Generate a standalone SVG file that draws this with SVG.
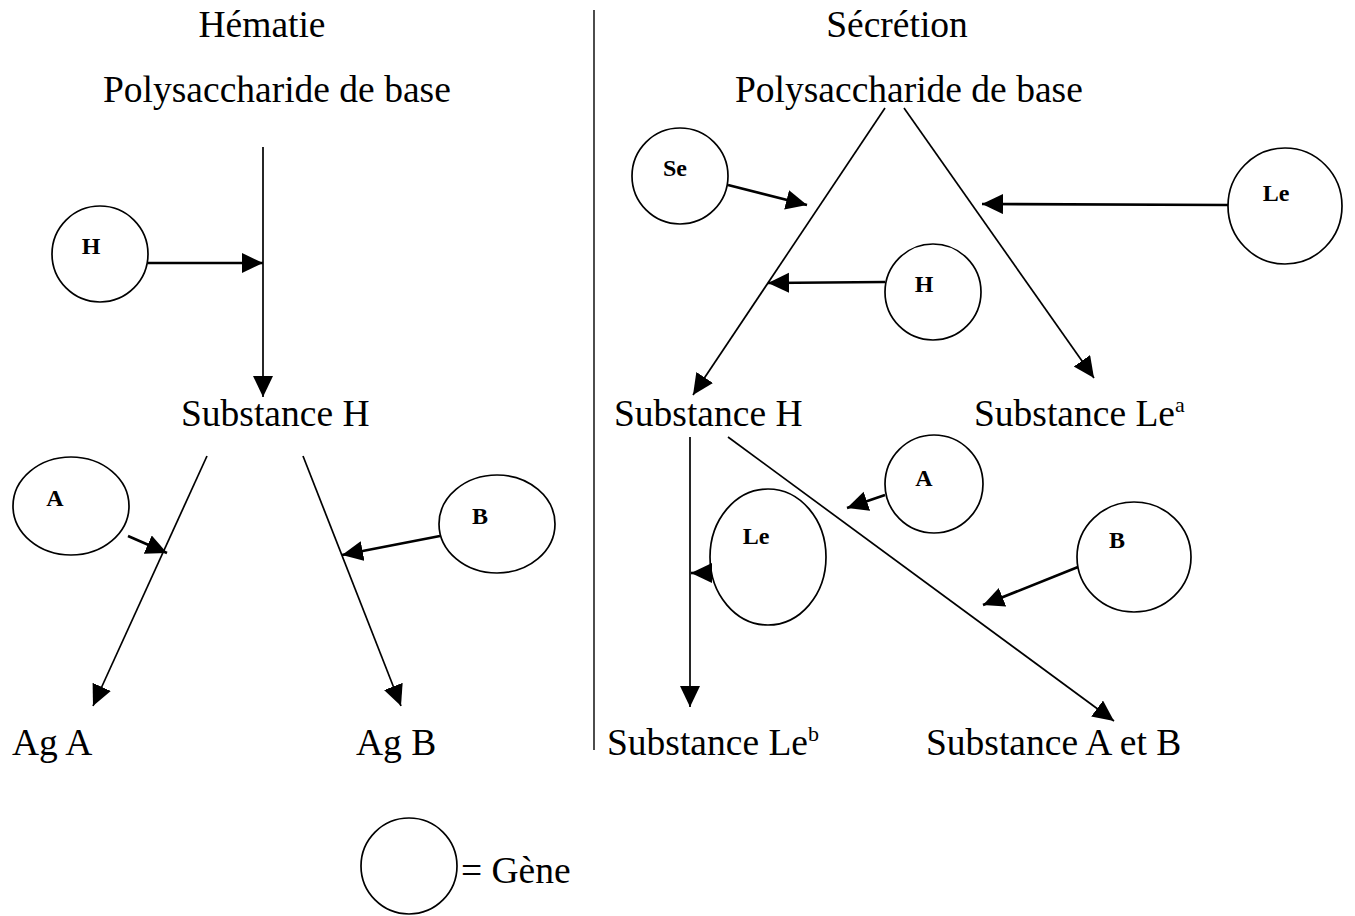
<svg xmlns="http://www.w3.org/2000/svg" width="1355" height="916" viewBox="0 0 1355 916">
<style>
.t{font-family:"Liberation Serif","Times New Roman",serif;font-size:37.5px;fill:#000}
.sup{font-size:22px}
.g{font-family:"Liberation Serif","Times New Roman",serif;font-size:24px;font-weight:bold;fill:#000;text-anchor:middle}
.c{fill:#fff;stroke:#000;stroke-width:1.7}
.m{stroke:#000;stroke-width:1.7;fill:none;marker-end:url(#ah)}
.a{stroke:#000;stroke-width:2.6;fill:none;marker-end:url(#ah)}
</style>
<defs>
<marker id="ah" markerUnits="userSpaceOnUse" markerWidth="24" markerHeight="22" refX="21" refY="10" orient="auto" viewBox="0 0 24 22">
<path d="M0,0 L21,10 L0,20 z" fill="#000"/>
</marker>
</defs>
<rect width="1355" height="916" fill="#fff"/>
<line x1="594" y1="10" x2="594" y2="750" stroke="#000" stroke-width="1.4"/>

<g id="titles">
<text class="t" x="262" y="37" text-anchor="middle">Hématie</text>
<text class="t" x="897" y="37" text-anchor="middle">Sécrétion</text>
</g>
<g id="poly-left"><text class="t" x="103" y="102">Polysaccharide de base</text></g>
<g id="poly-right"><text class="t" x="735" y="102">Polysaccharide de base</text></g>
<g id="subH-left"><text class="t" x="181" y="426">Substance H</text></g>
<g id="agA"><text class="t" x="12" y="755">Ag A</text></g>
<g id="agB"><text class="t" x="356" y="755">Ag B</text></g>
<g id="subH-right"><text class="t" x="614" y="426">Substance H</text></g>
<g id="subLea"><text class="t" x="974" y="426">Substance Le<tspan class="sup" dy="-14">a</tspan></text></g>
<g id="subLeb"><text class="t" x="607" y="755">Substance Le<tspan class="sup" dy="-14">b</tspan></text></g>
<g id="subAB"><text class="t" x="926" y="755">Substance A et B</text></g>

<g id="gene-H-left"><circle class="c" cx="100" cy="254" r="48"/><text class="g" x="91" y="254">H</text></g>
<g id="gene-A-left"><ellipse class="c" cx="71" cy="506" rx="58" ry="49"/><text class="g" x="55" y="506">A</text></g>
<g id="gene-B-left"><ellipse class="c" cx="497" cy="524" rx="58" ry="49"/><text class="g" x="480" y="524">B</text></g>
<g id="gene-Se"><circle class="c" cx="680" cy="176" r="48"/><text class="g" x="675" y="176">Se</text></g>
<g id="gene-H-right"><circle class="c" cx="933" cy="292" r="48"/><text class="g" x="924" y="292">H</text></g>
<g id="gene-Le-top"><ellipse class="c" cx="1285" cy="206" rx="57" ry="58"/><text class="g" x="1276" y="201">Le</text></g>
<g id="gene-A-right"><circle class="c" cx="934" cy="484" r="49"/><text class="g" x="924" y="486">A</text></g>
<g id="gene-Le-low"><ellipse class="c" cx="768" cy="557" rx="58" ry="68"/><text class="g" x="756" y="544">Le</text></g>
<g id="gene-B-right"><ellipse class="c" cx="1134" cy="557" rx="57" ry="55"/><text class="g" x="1117" y="548">B</text></g>
<g id="legend"><circle class="c" cx="409" cy="866" r="48"/><text class="t" x="461" y="883">= Gène</text></g>

<g id="connectors">
<line class="m" x1="263" y1="147" x2="263" y2="397"/>
<line class="a" x1="148" y1="263" x2="263" y2="263"/>
<line class="m" x1="207" y1="456" x2="93" y2="706"/>
<line class="m" x1="303" y1="456" x2="401" y2="706"/>
<line class="a" x1="128" y1="536" x2="167" y2="553"/>
<line class="a" x1="440" y1="536" x2="342" y2="555"/>
<line class="m" x1="885" y1="108" x2="693" y2="395"/>
<line class="m" x1="904" y1="108" x2="1094" y2="378"/>
<line class="a" x1="728" y1="185" x2="807" y2="205"/>
<line class="a" x1="885" y1="282" x2="768" y2="283"/>
<line class="a" x1="1228" y1="205" x2="982" y2="204"/>
<line class="m" x1="690" y1="437" x2="690" y2="707"/>
<line class="m" x1="728" y1="437" x2="1114" y2="721"/>
<line class="a" x1="885" y1="495" x2="847" y2="508"/>
<line class="a" x1="711" y1="573" x2="691" y2="573"/>
<line class="a" x1="1078" y1="567" x2="983" y2="605"/>
</g>
</svg>
